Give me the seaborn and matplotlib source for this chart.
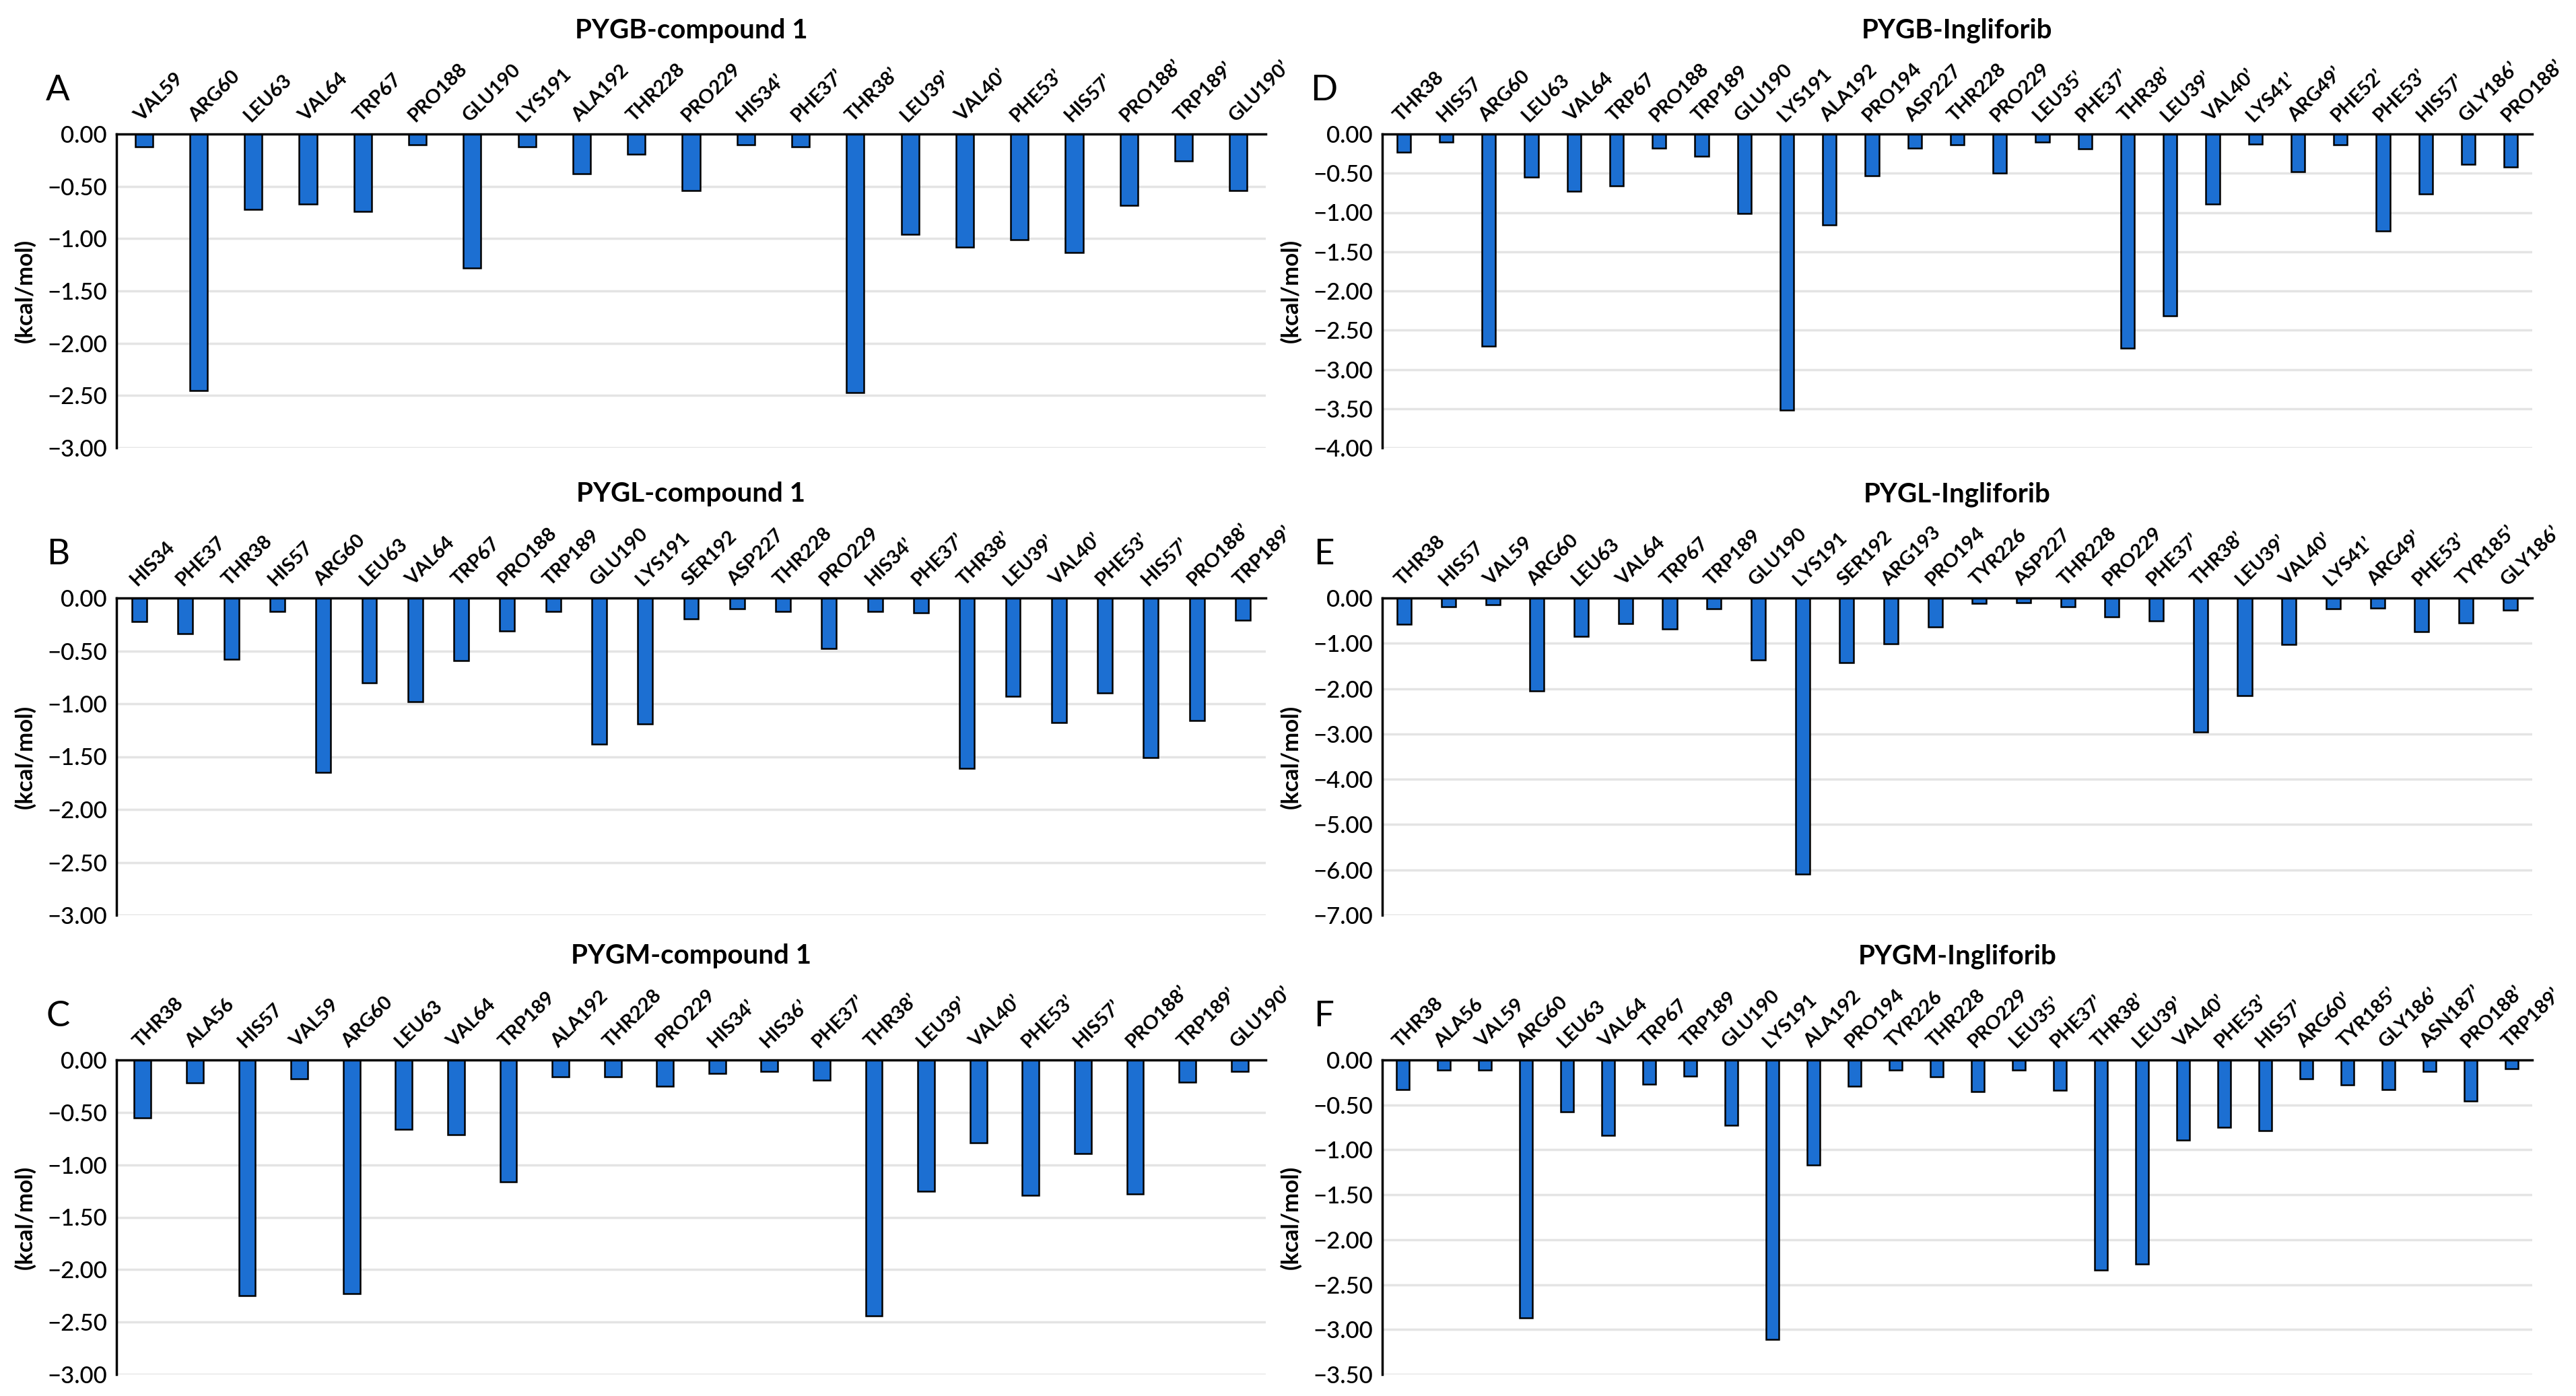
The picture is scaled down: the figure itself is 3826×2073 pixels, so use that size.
import matplotlib
matplotlib.use("Agg")
import matplotlib.pyplot as plt
import seaborn as sns
import pandas as pd
from matplotlib.ticker import FuncFormatter, MultipleLocator

# ---------------- data ----------------
labels_A = ["VAL59", "ARG60", "LEU63", "VAL64", "TRP67", "PRO188", "GLU190", "LYS191",
            "ALA192", "THR228", "PRO229", "HIS34’", "PHE37’", "THR38’", "LEU39’", "VAL40’",
            "PHE53’", "HIS57’", "PRO188’", "TRP189’", "GLU190’"]
values_A = [-0.12, -2.45, -0.72, -0.67, -0.74, -0.10, -1.28, -0.12, -0.38, -0.19, -0.54,
            -0.10, -0.12, -2.47, -0.96, -1.08, -1.01, -1.13, -0.68, -0.26, -0.54]

labels_B = ["HIS34", "PHE37", "THR38", "HIS57", "ARG60", "LEU63", "VAL64", "TRP67", "PRO188",
            "TRP189", "GLU190", "LYS191", "SER192", "ASP227", "THR228", "PRO229", "HIS34’",
            "PHE37’", "THR38’", "LEU39’", "VAL40’", "PHE53’", "HIS57’", "PRO188’", "TRP189’"]
values_B = [-0.22, -0.34, -0.58, -0.13, -1.65, -0.80, -0.98, -0.59, -0.31, -0.13, -1.38, -1.19,
            -0.20, -0.10, -0.13, -0.48, -0.13, -0.14, -1.61, -0.93, -1.18, -0.90, -1.51, -1.16, -0.21]

labels_C = ["THR38", "ALA56", "HIS57", "VAL59", "ARG60", "LEU63", "VAL64", "TRP189", "ALA192",
            "THR228", "PRO229", "HIS34’", "HIS36’", "PHE37’", "THR38’", "LEU39’", "VAL40’",
            "PHE53’", "HIS57’", "PRO188’", "TRP189’", "GLU190’"]
values_C = [-0.55, -0.22, -2.25, -0.18, -2.23, -0.66, -0.71, -1.16, -0.16, -0.16, -0.25,
            -0.13, -0.11, -0.19, -2.44, -1.25, -0.79, -1.29, -0.89, -1.28, -0.21, -0.11]

labels_D = ["THR38", "HIS57", "ARG60", "LEU63", "VAL64", "TRP67", "PRO188", "TRP189", "GLU190",
            "LYS191", "ALA192", "PRO194", "ASP227", "THR228", "PRO229", "LEU35’", "PHE37’",
            "THR38’", "LEU39’", "VAL40’", "LYS41’", "ARG49’", "PHE52’", "PHE53’", "HIS57’",
            "GLY186’", "PRO188’"]
values_D = [-0.23, -0.10, -2.70, -0.55, -0.73, -0.66, -0.18, -0.28, -1.01, -3.52, -1.16, -0.53,
            -0.18, -0.14, -0.50, -0.10, -0.19, -2.73, -2.32, -0.89, -0.13, -0.48, -0.14, -1.24,
            -0.76, -0.39, -0.42]

labels_E = ["THR38", "HIS57", "VAL59", "ARG60", "LEU63", "VAL64", "TRP67", "TRP189", "GLU190",
            "LYS191", "SER192", "ARG193", "PRO194", "TYR226", "ASP227", "THR228", "PRO229",
            "PHE37’", "THR38’", "LEU39’", "VAL40’", "LYS41’", "ARG49’", "PHE53’", "TYR185’",
            "GLY186’"]
values_E = [-0.58, -0.19, -0.15, -2.05, -0.84, -0.56, -0.68, -0.24, -1.37, -6.09, -1.43, -1.01,
            -0.64, -0.12, -0.10, -0.19, -0.42, -0.51, -2.96, -2.15, -1.02, -0.24, -0.22, -0.75,
            -0.55, -0.27]

labels_F = ["THR38", "ALA56", "VAL59", "ARG60", "LEU63", "VAL64", "TRP67", "TRP189", "GLU190",
            "LYS191", "ALA192", "PRO194", "TYR226", "THR228", "PRO229", "LEU35’", "PHE37’",
            "THR38’", "LEU39’", "VAL40’", "PHE53’", "HIS57’", "ARG60’", "TYR185’", "GLY186’",
            "ASN187’", "PRO188’", "TRP189’"]
values_F = [-0.33, -0.11, -0.11, -2.87, -0.58, -0.84, -0.27, -0.18, -0.73, -3.11, -1.17, -0.29,
            -0.11, -0.19, -0.35, -0.11, -0.34, -2.34, -2.27, -0.89, -0.75, -0.79, -0.21, -0.28,
            -0.33, -0.13, -0.46, -0.10]

titles = ["PYGB-compound 1", "PYGL-compound 1", "PYGM-compound 1",
          "PYGB-Ingliforib", "PYGL-Ingliforib", "PYGM-Ingliforib"]
letters = ["A", "B", "C", "D", "E", "F"]
ylims = [-3.0, -3.0, -3.0, -4.0, -7.0, -3.5]
ysteps = [0.5, 0.5, 0.5, 0.5, 1.0, 0.5]

# ---------------- style ----------------
sns.set_theme(style="white")
plt.rcParams["font.family"] = ["Lato", "DejaVu Sans"]

W, H = 3826, 2073
fig = plt.figure(figsize=(W / 100, H / 100), dpi=100)

col_x = [(173, 1880), (2053, 3761)]
row_y = [(199, 665), (888, 1359), (1574, 2041)]

BAR_COLOR = "#1C6FD2"

panels = [(labels_A, values_A), (labels_B, values_B), (labels_C, values_C),
          (labels_D, values_D), (labels_E, values_E), (labels_F, values_F)]

fmt = FuncFormatter(lambda v, p: ("%.2f" % abs(v)) if abs(v) < 1e-9 else ("%.2f" % v).replace("-", "\u2212"))

for i, (labs, vals) in enumerate(panels):
    c = i // 3
    r = i % 3
    x0, x1 = col_x[c]
    yt, yb = row_y[r]
    ax = fig.add_axes([x0 / W, 1 - yb / H, (x1 - x0) / W, (yb - yt) / H])
    df = pd.DataFrame({"res": labs, "dG": vals})
    sns.barplot(data=df, x="res", y="dG", ax=ax, color=BAR_COLOR, saturation=1,
                width=0.32, edgecolor="black", linewidth=1.8, order=labs)
    ax.set_ylim(ylims[i], 0)
    ax.set_xlim(-0.5, len(labs) - 0.5)
    ax.yaxis.set_major_locator(MultipleLocator(ysteps[i]))
    ax.yaxis.set_major_formatter(fmt)
    ax.yaxis.grid(True, color="#E4E4E4", linewidth=2.5)
    ax.xaxis.grid(False)
    ax.set_axisbelow(True)
    for s in ["bottom", "right"]:
        ax.spines[s].set_visible(False)
    for s in ["top", "left"]:
        ax.spines[s].set_visible(True)
        ax.spines[s].set_color("black")
        ax.spines[s].set_linewidth(2.5)
    ax.xaxis.tick_top()
    ax.tick_params(axis="x", length=0, pad=10, labelsize=21)
    ax.tick_params(axis="y", length=0, pad=10, labelsize=25, labelcolor="black")
    for t in ax.get_xticklabels():
        t.set_rotation(45)
        t.set_ha("left")
        t.set_va("bottom")
        t.set_rotation_mode("anchor")
        t.set_fontweight("bold")
        t.set_color("black")
    for t in ax.get_yticklabels():
        t.set_fontweight("medium")
    ax.set_xlabel("")
    ax.set_ylabel("(kcal/mol)", fontsize=25, fontweight="bold", color="black")
    ax.yaxis.set_label_coords(-0.07, 0.5)

    # title and panel letter
    fig.text(((x0 + x1) / 2) / W, 1 - (yt - 154) / H, titles[i], ha="center", va="center",
             fontsize=29, fontweight="bold", color="black")
    fig.text((x0 - 87) / W, 1 - (yt - 65) / H, letters[i], ha="center", va="center",
             fontsize=38, color="black")

fig.savefig("out.png", dpi=100, facecolor="white")
